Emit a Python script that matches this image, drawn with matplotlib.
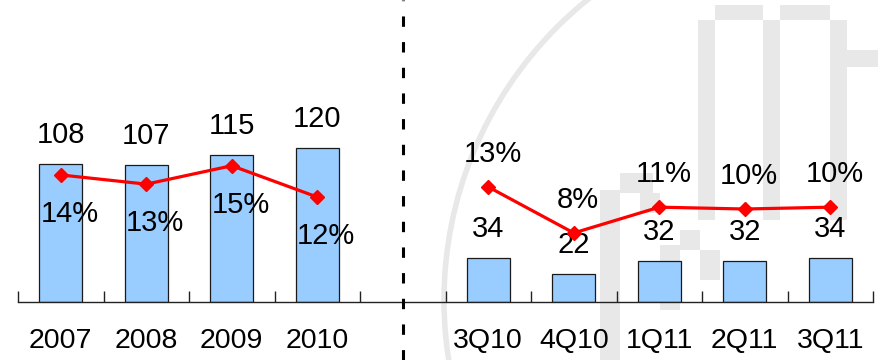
import matplotlib
matplotlib.use('Agg')
from matplotlib import pyplot as plt
from matplotlib.patches import Circle, Rectangle
from matplotlib.lines import Line2D

plt.rcParams['font.family'] = ['Liberation Sans', 'DejaVu Sans']

# annual figures
years = ['2007', '2008', '2009', '2010']
year_vals = [108, 107, 115, 120]
year_pct = [14.3, 13.3, 15.3, 11.9]
year_pct_labels = ['14%', '13%', '15%', '12%']

# quarterly figures
quarters = ['3Q10', '4Q10', '1Q11', '2Q11', '3Q11']
quarter_vals = [34, 22, 32, 32, 34]
quarter_pct = [13.0, 8.0, 10.8, 10.6, 10.8]
quarter_pct_labels = ['13%', '8%', '11%', '10%', '10%']

W, H = 879, 360
FS = 21
fig = plt.figure(figsize=(W / 100, H / 100), dpi=100)

# faint watermark in the background
bg = fig.add_axes([0, 0, 1, 1], zorder=-1)
bg.set_xlim(0, W)
bg.set_ylim(H, 0)
bg.axis('off')
wm = '#e8e8e8'
bg.add_patch(Circle((830, 300), 386, fill=False, ec=wm, lw=4))
for (x, y, w, h) in [(715, 5, 48, 15), (780, 5, 50, 15), (698, 20, 17, 200),
                     (763, 20, 17, 200), (830, 20, 17, 200), (847, 50, 32, 17),
                     (600, 190, 20, 170), (620, 173, 33, 20), (640, 193, 20, 20),
                     (660, 245, 20, 65), (680, 230, 20, 20), (700, 250, 20, 30)]:
    bg.add_patch(Rectangle((x, y), w, h, color=wm, lw=0))

ax = fig.add_axes([18 / W, (H - 302) / H, 855 / W, 302 / H])
ax.patch.set_alpha(0)

left_x = list(range(len(years)))
right_x = [len(years) + 1 + i for i in range(len(quarters))]

bar_kw = dict(width=0.5, color='#99ccff', edgecolor='#1a1a1a', linewidth=0.9, zorder=2)
ax.bar(left_x, year_vals, **bar_kw)
ax.bar(right_x, quarter_vals, **bar_kw)

ax.set_xlim(-0.5, len(years) + len(quarters) + 0.5)
ax.set_ylim(0, 236)
for s in ['top', 'right', 'left']:
    ax.spines[s].set_visible(False)
ax.spines['bottom'].set_color('#222222')
ax.spines['bottom'].set_linewidth(1.0)
ax.set_yticks([])

ax.set_xticks(left_x + right_x)
ax.set_xticklabels(years + quarters, fontsize=20.5)
ax.tick_params(axis='x', which='major', length=0, pad=19)
ax.set_xticks([i - 0.5 for i in range(len(years) + len(quarters) + 2)], minor=True)
ax.tick_params(axis='x', which='minor', direction='in', length=8, width=1, color='#222222')

for xs, vals in [(left_x, year_vals), (right_x, quarter_vals)]:
    for x, v in zip(xs, vals):
        ax.annotate(str(v), (x, v), xytext=(0, 21), textcoords='offset points',
                    ha='center', va='center', fontsize=FS, zorder=5)

ax2 = ax.twinx()
ax2.set_ylim(0.5, 33.3)
ax2.axis('off')
line_kw = dict(color='#ff0000', lw=2.3, marker='D', markersize=7, zorder=4)
ax2.plot(left_x, year_pct, **line_kw)
ax2.plot(right_x, quarter_pct, **line_kw)

for x, v, t in zip(left_x, year_pct, year_pct_labels):
    ax2.annotate(t, (x, v), xytext=(6.5, -28), textcoords='offset points',
                 ha='center', va='center', fontsize=FS)
for x, v, t in zip(right_x, quarter_pct, quarter_pct_labels):
    ax2.annotate(t, (x, v), xytext=(3, 24), textcoords='offset points',
                 ha='center', va='center', fontsize=FS)

# dashed divider between annual and quarterly figures
fig.add_artist(Line2D([403 / W, 403 / W], [0, 1], transform=fig.transFigure,
                      color='black', lw=2.2, dashes=(3.4, 5.0)))

fig.savefig('out.png', dpi=100)
